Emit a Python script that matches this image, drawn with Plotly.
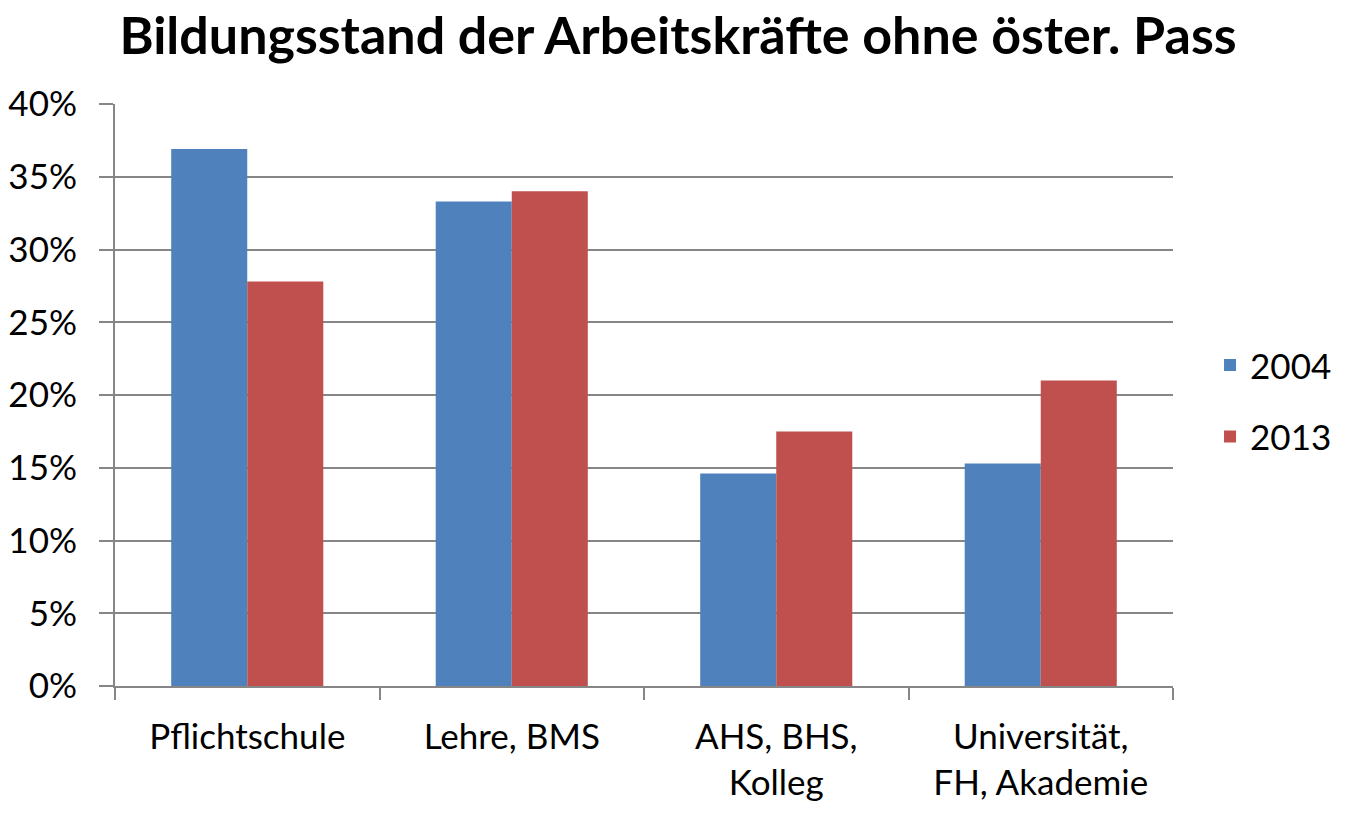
import plotly.graph_objects as go

categories = ["Pflichtschule", "Lehre, BMS", "AHS, BHS,<br>Kolleg", "Universität,<br>FH, Akademie"]
years = ["2004", "2013"]
values_2004 = [36.9, 33.3, 14.6, 15.3]
values_2013 = [27.8, 34.0, 17.5, 21.0]
colors = ["#4F81BD", "#C0504D"]
y_ticks = [0, 5, 10, 15, 20, 25, 30, 35, 40]

FONT = "Lato, Open Sans, sans-serif"

fig = go.Figure()
for name, vals, col in zip(years, [values_2004, values_2013], colors):
    fig.add_trace(go.Bar(x=categories, y=vals, name=name, marker_color=col,
                         marker_line_width=0, legendgroup=name))

fig.update_layout(
    width=1356, height=821,
    margin=dict(l=115, r=183, t=104, b=135),
    paper_bgcolor="white", plot_bgcolor="white",
    font=dict(family=FONT, size=35, color="black"),
    title=dict(text="<b>Bildungsstand der Arbeitskräfte ohne öster. Pass</b>",
               x=0.5, xanchor="center", y=0.956, yanchor="middle",
               font=dict(size=52, family=FONT, color="black")),
    barmode="group", bargap=0.425, bargroupgap=0,
    legend=dict(x=1.035, xanchor="left", y=0.49, yanchor="middle",
                font=dict(size=35), tracegroupgap=23, itemwidth=30),
    showlegend=True,
)
fig.update_xaxes(showline=True, linecolor="#868686", linewidth=2,
                 ticks="outside", ticklen=12, tickcolor="#868686", tickwidth=2,
                 tickson="boundaries", tickfont=dict(size=35), automargin=False,
                 ticklabelstandoff=19)
fig.update_yaxes(range=[0, 40], tickvals=y_ticks,
                 ticktext=[f"{v}%" for v in y_ticks],
                 showgrid=True, gridcolor="#868686", gridwidth=2,
                 showline=True, linecolor="#868686", linewidth=2,
                 ticks="outside", ticklen=14, tickcolor="#868686", tickwidth=2,
                 zeroline=False, tickfont=dict(size=35), automargin=False,
                 ticklabelstandoff=15)

fig.write_html("out.html")
